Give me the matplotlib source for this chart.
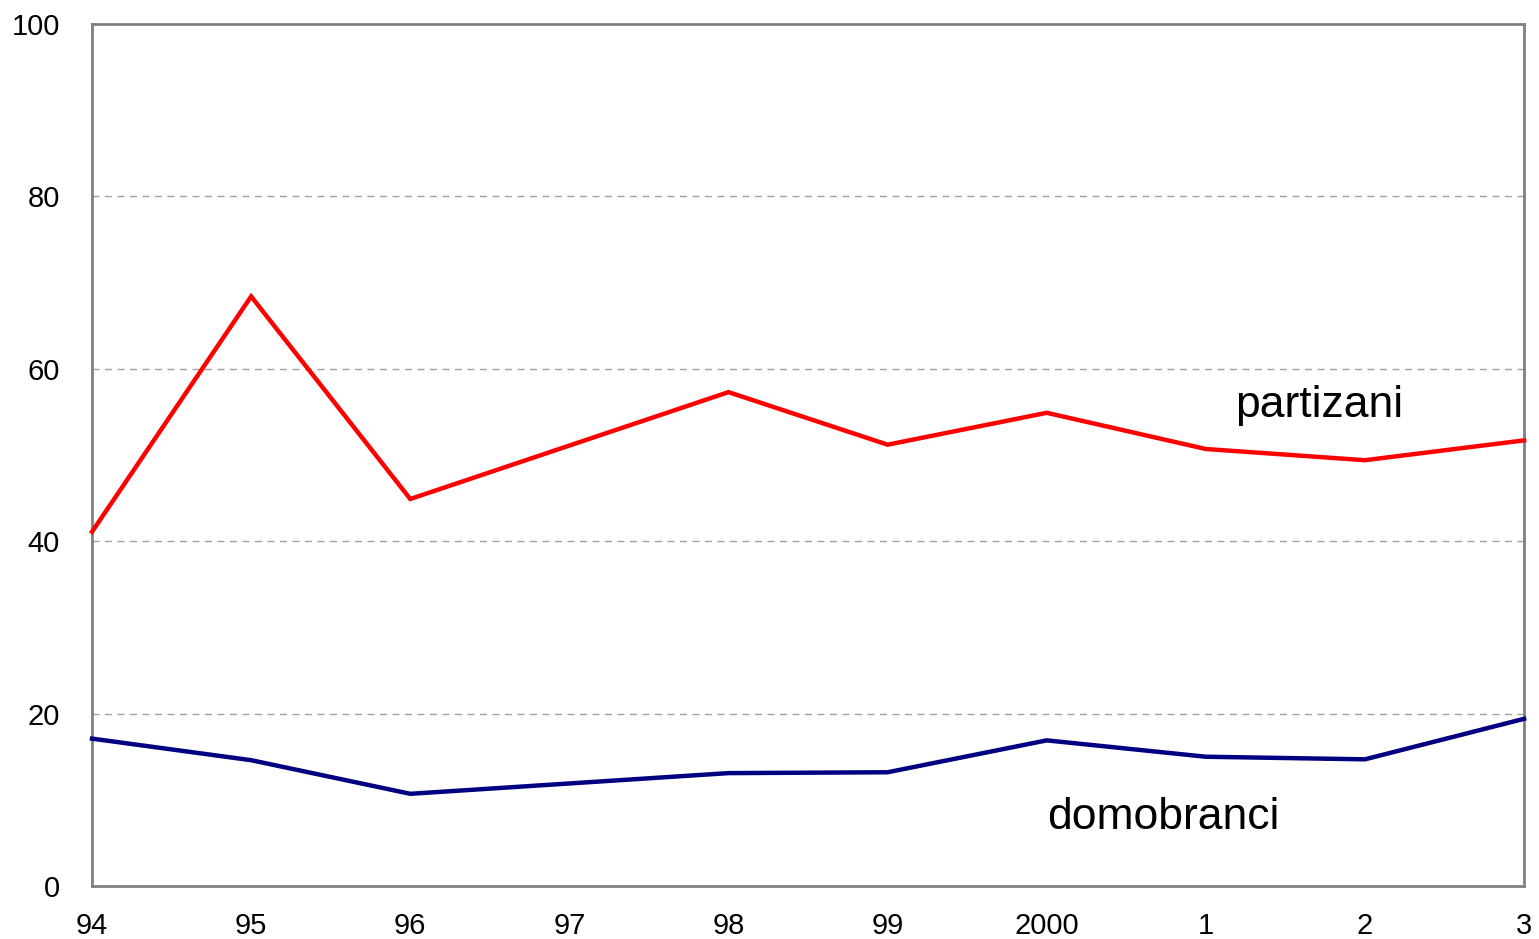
import numpy as np
import matplotlib.pyplot as plt

plt.rcParams['font.family'] = ['Liberation Sans', 'DejaVu Sans']

# years on the axis (97 has no data point in the source)
year_labels = ["94", "95", "96", "97", "98", "99", "2000", "1", "2", "3"]
partizani = [41.1, 68.4, 44.9, np.nan, 57.3, 51.2, 54.9, 50.7, 49.4, 51.7]
domobranci = [17.1, 14.6, 10.7, np.nan, 13.1, 13.2, 16.9, 15.0, 14.7, 19.4]

x = np.arange(len(year_labels))

fig = plt.figure(figsize=(15.39, 9.39), dpi=100)
ax = fig.add_axes([0.0598, 0.0564, 0.9305, 0.918])

def plot_series(vals, color):
    vals = np.array(vals, dtype=float)
    ok = ~np.isnan(vals)
    ax.plot(x[ok], vals[ok], color=color, lw=3.2, solid_joinstyle='miter', clip_on=False, zorder=3)

plot_series(partizani, '#ff0000')
plot_series(domobranci, '#000080')

ax.set_xlim(0, len(year_labels) - 1)
ax.set_ylim(0, 100)
ax.set_xticks(x)
ax.set_xticklabels(year_labels)
ax.set_yticks([0, 20, 40, 60, 80, 100])
ax.tick_params(length=0, labelsize=21)
ax.tick_params(axis='x', pad=19)
ax.tick_params(axis='y', pad=23)

for y in [20, 40, 60, 80]:
    ax.axhline(y, color='#a0a0a0', lw=1, ls=(0, (5, 4)), zorder=1)

for s in ax.spines.values():
    s.set_color('#808080')
    s.set_linewidth(2)

ax.text(7.71, 55.8, "partizani", fontsize=32, ha='center', va='center')
ax.text(6.73, 7.9, "domobranci", fontsize=32, ha='center', va='center')

fig.savefig("out.png", dpi=100)
